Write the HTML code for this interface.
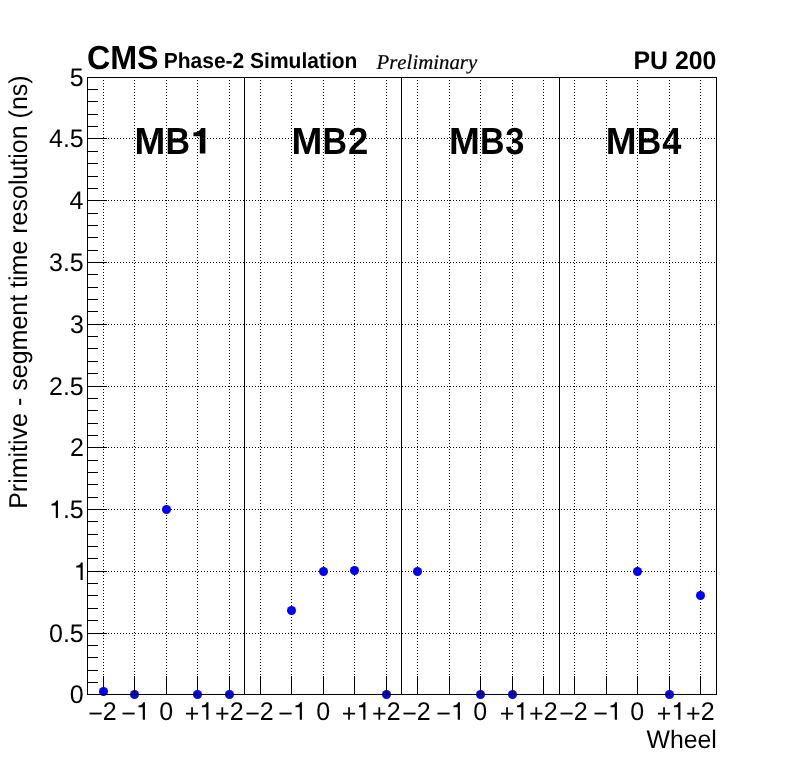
<!DOCTYPE html>
<html><head><meta charset="utf-8"><title>plot</title>
<style>html,body{margin:0;padding:0;background:#fff;}body{width:796px;height:772px;overflow:hidden;}svg{display:block;will-change:transform;}text{font-family:"Liberation Sans",sans-serif;fill:#000;text-rendering:geometricPrecision;font-kerning:none;}.s{font-family:"Liberation Serif",serif;font-style:italic;stroke:#000;stroke-width:0.2px;}.b text{font-weight:bold;}</style>
</head><body>
<svg width="796" height="772" viewBox="0 0 796 772">
<rect x="0" y="0" width="796" height="772" fill="#fff"/>
<g shape-rendering="crispEdges" stroke="#000" stroke-width="1" stroke-dasharray="1 2" fill="none">
<line x1="103.5" y1="77" x2="103.5" y2="694"/>
<line x1="134.5" y1="77" x2="134.5" y2="694"/>
<line x1="166.5" y1="77" x2="166.5" y2="694"/>
<line x1="197.5" y1="77" x2="197.5" y2="694"/>
<line x1="229.5" y1="77" x2="229.5" y2="694"/>
<line x1="260.5" y1="77" x2="260.5" y2="694"/>
<line x1="291.5" y1="77" x2="291.5" y2="694"/>
<line x1="323.5" y1="77" x2="323.5" y2="694"/>
<line x1="354.5" y1="77" x2="354.5" y2="694"/>
<line x1="386.5" y1="77" x2="386.5" y2="694"/>
<line x1="417.5" y1="77" x2="417.5" y2="694"/>
<line x1="449.5" y1="77" x2="449.5" y2="694"/>
<line x1="480.5" y1="77" x2="480.5" y2="694"/>
<line x1="512.5" y1="77" x2="512.5" y2="694"/>
<line x1="543.5" y1="77" x2="543.5" y2="694"/>
<line x1="574.5" y1="77" x2="574.5" y2="694"/>
<line x1="606.5" y1="77" x2="606.5" y2="694"/>
<line x1="637.5" y1="77" x2="637.5" y2="694"/>
<line x1="669.5" y1="77" x2="669.5" y2="694"/>
<line x1="700.5" y1="77" x2="700.5" y2="694"/>
<line x1="87" y1="633.5" x2="716" y2="633.5"/>
<line x1="87" y1="571.5" x2="716" y2="571.5"/>
<line x1="87" y1="509.5" x2="716" y2="509.5"/>
<line x1="87" y1="447.5" x2="716" y2="447.5"/>
<line x1="87" y1="386.5" x2="716" y2="386.5"/>
<line x1="87" y1="324.5" x2="716" y2="324.5"/>
<line x1="87" y1="262.5" x2="716" y2="262.5"/>
<line x1="87" y1="200.5" x2="716" y2="200.5"/>
<line x1="87" y1="138.5" x2="716" y2="138.5"/>
</g>
<g shape-rendering="crispEdges" fill="#000">
<rect x="244" y="77" width="1" height="618"/>
<rect x="401" y="77" width="1" height="618"/>
<rect x="559" y="77" width="1" height="618"/>
</g>
<g fill="#0000ff">
<circle cx="103.5" cy="691.5" r="4.50"/>
<circle cx="134.5" cy="694.5" r="4.50"/>
<circle cx="166.5" cy="509.5" r="4.50"/>
<circle cx="197.5" cy="694.5" r="4.50"/>
<circle cx="229.5" cy="694.5" r="4.50"/>
<circle cx="291.5" cy="610.5" r="4.50"/>
<circle cx="323.5" cy="571.5" r="4.50"/>
<circle cx="354.5" cy="570.5" r="4.50"/>
<circle cx="386.5" cy="694.5" r="4.50"/>
<circle cx="417.5" cy="571.5" r="4.50"/>
<circle cx="480.5" cy="694.5" r="4.50"/>
<circle cx="512.5" cy="694.5" r="4.50"/>
<circle cx="637.5" cy="571.5" r="4.50"/>
<circle cx="669.5" cy="694.5" r="4.50"/>
<circle cx="700.5" cy="595.5" r="4.50"/>
</g>
<g shape-rendering="crispEdges" fill="#000">
<rect x="87" y="77" width="630" height="1"/>
<rect x="87" y="694" width="630" height="1"/>
<rect x="87" y="77" width="1" height="618"/>
<rect x="716" y="77" width="1" height="618"/>
<rect x="103" y="676" width="1" height="18"/>
<rect x="134" y="676" width="1" height="18"/>
<rect x="166" y="676" width="1" height="18"/>
<rect x="197" y="676" width="1" height="18"/>
<rect x="229" y="676" width="1" height="18"/>
<rect x="260" y="676" width="1" height="18"/>
<rect x="291" y="676" width="1" height="18"/>
<rect x="323" y="676" width="1" height="18"/>
<rect x="354" y="676" width="1" height="18"/>
<rect x="386" y="676" width="1" height="18"/>
<rect x="417" y="676" width="1" height="18"/>
<rect x="449" y="676" width="1" height="18"/>
<rect x="480" y="676" width="1" height="18"/>
<rect x="512" y="676" width="1" height="18"/>
<rect x="543" y="676" width="1" height="18"/>
<rect x="574" y="676" width="1" height="18"/>
<rect x="606" y="676" width="1" height="18"/>
<rect x="637" y="676" width="1" height="18"/>
<rect x="669" y="676" width="1" height="18"/>
<rect x="700" y="676" width="1" height="18"/>
<rect x="88" y="694" width="19" height="1"/>
<rect x="88" y="682" width="10" height="1"/>
<rect x="88" y="670" width="10" height="1"/>
<rect x="88" y="657" width="10" height="1"/>
<rect x="88" y="645" width="10" height="1"/>
<rect x="88" y="633" width="19" height="1"/>
<rect x="88" y="620" width="10" height="1"/>
<rect x="88" y="608" width="10" height="1"/>
<rect x="88" y="595" width="10" height="1"/>
<rect x="88" y="583" width="10" height="1"/>
<rect x="88" y="571" width="19" height="1"/>
<rect x="88" y="558" width="10" height="1"/>
<rect x="88" y="546" width="10" height="1"/>
<rect x="88" y="534" width="10" height="1"/>
<rect x="88" y="521" width="10" height="1"/>
<rect x="88" y="509" width="19" height="1"/>
<rect x="88" y="497" width="10" height="1"/>
<rect x="88" y="484" width="10" height="1"/>
<rect x="88" y="472" width="10" height="1"/>
<rect x="88" y="460" width="10" height="1"/>
<rect x="88" y="447" width="19" height="1"/>
<rect x="88" y="435" width="10" height="1"/>
<rect x="88" y="423" width="10" height="1"/>
<rect x="88" y="410" width="10" height="1"/>
<rect x="88" y="398" width="10" height="1"/>
<rect x="88" y="386" width="19" height="1"/>
<rect x="88" y="373" width="10" height="1"/>
<rect x="88" y="361" width="10" height="1"/>
<rect x="88" y="348" width="10" height="1"/>
<rect x="88" y="336" width="10" height="1"/>
<rect x="88" y="324" width="19" height="1"/>
<rect x="88" y="311" width="10" height="1"/>
<rect x="88" y="299" width="10" height="1"/>
<rect x="88" y="287" width="10" height="1"/>
<rect x="88" y="274" width="10" height="1"/>
<rect x="88" y="262" width="19" height="1"/>
<rect x="88" y="250" width="10" height="1"/>
<rect x="88" y="237" width="10" height="1"/>
<rect x="88" y="225" width="10" height="1"/>
<rect x="88" y="213" width="10" height="1"/>
<rect x="88" y="200" width="19" height="1"/>
<rect x="88" y="188" width="10" height="1"/>
<rect x="88" y="176" width="10" height="1"/>
<rect x="88" y="163" width="10" height="1"/>
<rect x="88" y="151" width="10" height="1"/>
<rect x="88" y="138" width="19" height="1"/>
<rect x="88" y="126" width="10" height="1"/>
<rect x="88" y="114" width="10" height="1"/>
<rect x="88" y="101" width="10" height="1"/>
<rect x="88" y="89" width="10" height="1"/>
<rect x="88" y="77" width="19" height="1"/>
</g>
<g transform="translate(69.77 703.10) scale(1 1.0200)" font-size="25"><text x="0.00" y="0">0</text></g>
<g transform="translate(49.00 642.10) scale(1 1.0200)" font-size="25"><text x="0.00" y="0">0.5</text></g>
<g transform="translate(73.73 580.10) scale(1 1.0200)" font-size="25"><path transform="translate(0.00 0)" d="M8.975 0H6.800V-12.350H2.525V-14.000C4.750 -14.100 6.550 -15.075 7.300 -17.250H8.975Z"/></g>
<g transform="translate(49.00 518.10) scale(1 1.0200)" font-size="25"><path transform="translate(0.00 0)" d="M8.975 0H6.800V-12.350H2.525V-14.000C4.750 -14.100 6.550 -15.075 7.300 -17.250H8.975Z"/><text x="13.90" y="0">.5</text></g>
<g transform="translate(70.05 456.10) scale(1 1.0200)" font-size="25"><text x="0.00" y="0">2</text></g>
<g transform="translate(49.00 395.10) scale(1 1.0200)" font-size="25"><text x="0.00" y="0">2.5</text></g>
<g transform="translate(69.89 333.10) scale(1 1.0200)" font-size="25"><text x="0.00" y="0">3</text></g>
<g transform="translate(49.00 271.10) scale(1 1.0200)" font-size="25"><text x="0.00" y="0">3.5</text></g>
<g transform="translate(69.53 209.10) scale(1 1.0200)" font-size="25"><text x="0.00" y="0">4</text></g>
<g transform="translate(49.00 147.10) scale(1 1.0200)" font-size="25"><text x="0.00" y="0">4.5</text></g>
<g transform="translate(69.85 86.10) scale(1 1.0200)" font-size="25"><text x="0.00" y="0">5</text></g>
<g transform="translate(88.26 719.80) scale(1 1.0200)" font-size="25"><text x="0.00" y="1.88">−</text><text x="14.60" y="0">2</text></g>
<g transform="translate(121.35 719.80) scale(1 1.0200)" font-size="25"><text x="0.00" y="1.88">−</text><path transform="translate(14.60 0)" d="M8.975 0H6.800V-12.350H2.525V-14.000C4.750 -14.100 6.550 -15.075 7.300 -17.250H8.975Z"/></g>
<g transform="translate(159.20 719.80) scale(1 1.0200)" font-size="25"><text x="0.00" y="0">0</text></g>
<g transform="translate(184.85 719.80) scale(1 1.0200)" font-size="25"><text x="0.00" y="2.25">+</text><path transform="translate(14.60 0)" d="M8.975 0H6.800V-12.350H2.525V-14.000C4.750 -14.100 6.550 -15.075 7.300 -17.250H8.975Z"/></g>
<g transform="translate(215.12 719.80) scale(1 1.0200)" font-size="25"><text x="0.00" y="2.25">+</text><text x="14.60" y="0">2</text></g>
<g transform="translate(245.26 719.80) scale(1 1.0200)" font-size="25"><text x="0.00" y="1.88">−</text><text x="14.60" y="0">2</text></g>
<g transform="translate(278.35 719.80) scale(1 1.0200)" font-size="25"><text x="0.00" y="1.88">−</text><path transform="translate(14.60 0)" d="M8.975 0H6.800V-12.350H2.525V-14.000C4.750 -14.100 6.550 -15.075 7.300 -17.250H8.975Z"/></g>
<g transform="translate(316.20 719.80) scale(1 1.0200)" font-size="25"><text x="0.00" y="0">0</text></g>
<g transform="translate(341.85 719.80) scale(1 1.0200)" font-size="25"><text x="0.00" y="2.25">+</text><path transform="translate(14.60 0)" d="M8.975 0H6.800V-12.350H2.525V-14.000C4.750 -14.100 6.550 -15.075 7.300 -17.250H8.975Z"/></g>
<g transform="translate(372.12 719.80) scale(1 1.0200)" font-size="25"><text x="0.00" y="2.25">+</text><text x="14.60" y="0">2</text></g>
<g transform="translate(402.26 719.80) scale(1 1.0200)" font-size="25"><text x="0.00" y="1.88">−</text><text x="14.60" y="0">2</text></g>
<g transform="translate(436.35 719.80) scale(1 1.0200)" font-size="25"><text x="0.00" y="1.88">−</text><path transform="translate(14.60 0)" d="M8.975 0H6.800V-12.350H2.525V-14.000C4.750 -14.100 6.550 -15.075 7.300 -17.250H8.975Z"/></g>
<g transform="translate(473.20 719.80) scale(1 1.0200)" font-size="25"><text x="0.00" y="0">0</text></g>
<g transform="translate(499.85 719.80) scale(1 1.0200)" font-size="25"><text x="0.00" y="2.25">+</text><path transform="translate(14.60 0)" d="M8.975 0H6.800V-12.350H2.525V-14.000C4.750 -14.100 6.550 -15.075 7.300 -17.250H8.975Z"/></g>
<g transform="translate(529.12 719.80) scale(1 1.0200)" font-size="25"><text x="0.00" y="2.25">+</text><text x="14.60" y="0">2</text></g>
<g transform="translate(559.26 719.80) scale(1 1.0200)" font-size="25"><text x="0.00" y="1.88">−</text><text x="14.60" y="0">2</text></g>
<g transform="translate(593.35 719.80) scale(1 1.0200)" font-size="25"><text x="0.00" y="1.88">−</text><path transform="translate(14.60 0)" d="M8.975 0H6.800V-12.350H2.525V-14.000C4.750 -14.100 6.550 -15.075 7.300 -17.250H8.975Z"/></g>
<g transform="translate(630.20 719.80) scale(1 1.0200)" font-size="25"><text x="0.00" y="0">0</text></g>
<g transform="translate(656.85 719.80) scale(1 1.0200)" font-size="25"><text x="0.00" y="2.25">+</text><path transform="translate(14.60 0)" d="M8.975 0H6.800V-12.350H2.525V-14.000C4.750 -14.100 6.550 -15.075 7.300 -17.250H8.975Z"/></g>
<g transform="translate(686.12 719.80) scale(1 1.0200)" font-size="25"><text x="0.00" y="2.25">+</text><text x="14.60" y="0">2</text></g>
<g transform="translate(646.43 747.50) scale(1 1.0200)" font-size="24.85"><text x="0.00" y="0">Wheel</text></g>
<g transform="translate(27.40 76.90) rotate(-90) translate(-431.91 0) scale(1 1.0300)" font-size="25"><text x="0.00" y="0">Primitive - segment time resolution (ns)</text></g>
<g transform="translate(86.88 68.60) scale(1 1.0350)" font-size="32.3" class="b"><text x="0.00" y="0">CMS</text></g>
<g transform="translate(163.70 68.45) scale(1 1.0350)" font-size="21.0" class="b"><text x="0.00" y="0">Phase-2 Simulation</text></g>
<text class="s" x="376.5" y="68.6" font-size="20.85">Preliminary</text>
<g transform="translate(633.53 68.90) scale(1 1.0300)" font-size="24.85" class="b"><text x="0.00" y="0">PU 200</text></g>
<g class="b" font-size="37.0" transform="translate(134.52 153.55) scale(1 1.0200)"><text x="0" y="0">M</text><text transform="translate(33.30 0) scale(0.9170 1) translate(-2.48 0)" x="0" y="0">B</text><path transform="translate(57.54 0)" d="M13.320 0H7.770V-16.946H1.369V-20.535C5.180 -20.720 7.844 -22.200 9.065 -25.012H13.320Z"/></g>
<g class="b" font-size="37.0" transform="translate(291.48 153.55) scale(1 1.0200)"><text x="0" y="0">M</text><text transform="translate(33.30 0) scale(0.9170 1) translate(-2.48 0)" x="0" y="0">B</text><text transform="translate(57.67 0) scale(0.9850 1) translate(-1.28 0)" x="0" y="0">2</text></g>
<g class="b" font-size="37.0" transform="translate(448.94 153.55) scale(1 1.0200)"><text x="0" y="0">M</text><text transform="translate(33.30 0) scale(0.9170 1) translate(-2.48 0)" x="0" y="0">B</text><text transform="translate(57.14 0) scale(0.9340 1) translate(-0.85 0)" x="0" y="0">3</text></g>
<g class="b" font-size="37.0" transform="translate(605.70 153.55) scale(1 1.0200)"><text x="0" y="0">M</text><text transform="translate(33.30 0) scale(0.9170 1) translate(-2.48 0)" x="0" y="0">B</text><text transform="translate(57.00 0) scale(0.9300 1) translate(-0.56 0)" x="0" y="0">4</text></g>
</svg></body></html>
